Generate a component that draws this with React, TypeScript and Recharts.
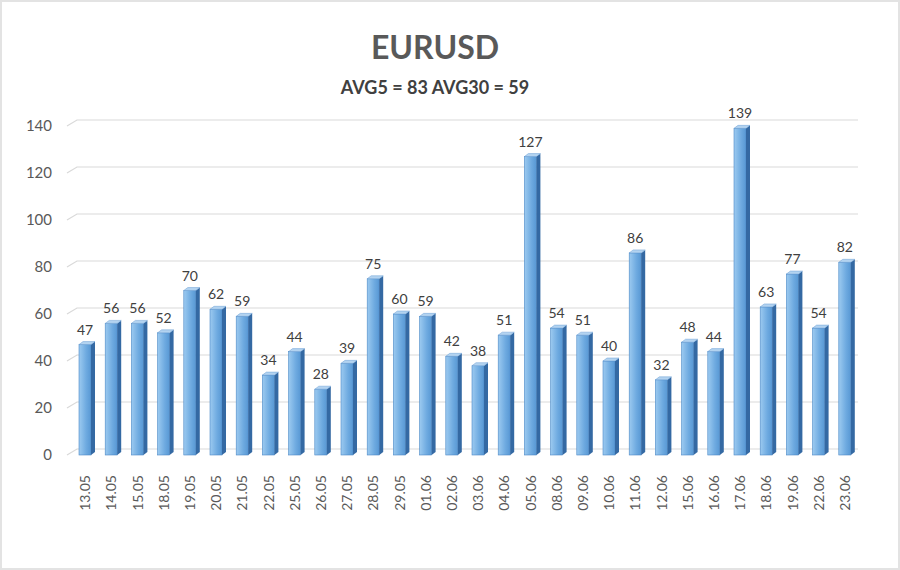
import { BarChart, Bar, XAxis, YAxis, CartesianGrid, LabelList } from "recharts";

const days = [
  "13.05", "14.05", "15.05", "18.05", "19.05", "20.05", "21.05", "22.05", "25.05", "26.05",
  "27.05", "28.05", "29.05", "01.06", "02.06", "03.06", "04.06", "05.06", "08.06", "09.06",
  "10.06", "11.06", "12.06", "15.06", "16.06", "17.06", "18.06", "19.06", "22.06", "23.06",
];
const ranges = [
  47, 56, 56, 52, 70, 62, 59, 34, 44, 28,
  39, 75, 60, 59, 42, 38, 51, 127, 54, 51,
  40, 86, 32, 48, 44, 139, 63, 77, 54, 82,
];
const yTicks = [0, 20, 40, 60, 80, 100, 120, 140];

const data = days.map((d, i) => ({ day: d, value: ranges[i] }));

const FONT = "Lato, 'Open Sans', sans-serif";

// bar with a bit of depth, like the excel 3d column
const Column3D = (props: any) => {
  const { x, y, width, height } = props;
  if (!height || height <= 0) return null;
  const d = 4; // depth
  const dy = 3;
  return (
    <g>
      <rect x={x} y={y} width={width} height={height} fill="url(#frontGrad)" stroke="#4a88c6" strokeWidth={0.6} />
      <path
        d={`M${x + width},${y} L${x + width + d},${y - dy} L${x + width + d},${y + height - dy} L${x + width},${y + height} Z`}
        fill="#3469a3"
      />
      <path
        d={`M${x},${y} L${x + d},${y - dy} L${x + width + d},${y - dy} L${x + width},${y} Z`}
        fill="#b3d3f0"
        stroke="#6a9fd4"
        strokeWidth={0.5}
      />
    </g>
  );
};

const GridLine = (props: any) => {
  const { x1, x2, y1 } = props;
  return (
    <path
      key={props.key}
      d={`M${x1 - 5},${y1} L${x1 + 5},${y1 - 6} L${x2},${y1 - 6}`}
      fill="none"
      stroke="#d9d9d9"
      strokeWidth={1.2}
    />
  );
};

const DayTick = (props: any) => {
  const { x, y, payload } = props;
  const tx = x + 5;
  const ty = y + 12;
  return (
    <text
      x={tx}
      y={ty}
      transform={`rotate(-90, ${tx}, ${ty})`}
      textAnchor="end"
      fontSize={14}
      fontFamily={FONT}
      fill="#595959"
    >
      {payload.value}
    </text>
  );
};

export default function App() {
  return (
    <div
      style={{
        position: "absolute",
        left: 0,
        top: 0,
        width: 900,
        height: 570,
        background: "#fff",
        border: "2px solid #e3e3e3",
        boxSizing: "border-box",
        fontFamily: FONT,
      }}
    >
      <div
        style={{
          position: "absolute",
          left: 233,
          width: 400,
          top: 25,
          textAlign: "center",
          fontSize: 32,
          fontWeight: 700,
          color: "#595959",
          lineHeight: "40px",
        }}
      >
        EURUSD
      </div>
      <div
        style={{
          position: "absolute",
          left: 233,
          width: 400,
          top: 74,
          textAlign: "center",
          fontSize: 18,
          fontWeight: 700,
          color: "#404040",
          lineHeight: "22px",
        }}
      >
        AVG5 = 83 AVG30 = 59
      </div>
      <div style={{ position: "absolute", left: -2, top: -2 }}>
        <BarChart
          width={900}
          height={570}
          data={data}
          margin={{ top: 126, right: 42, bottom: 15, left: 0 }}
          barCategoryGap={14}
        >
          <defs>
            <linearGradient id="frontGrad" x1="0" y1="0" x2="1" y2="0">
              <stop offset="0%" stopColor="#9ccaf0" />
              <stop offset="60%" stopColor="#6eaae0" />
              <stop offset="100%" stopColor="#5898d4" />
            </linearGradient>
          </defs>
          <CartesianGrid vertical={false} horizontal={GridLine} />
          <XAxis
            dataKey="day"
            interval={0}
            height={100}
            axisLine={false}
            tickLine={false}
            tick={<DayTick />}
          />
          <YAxis
            domain={[0, 140]}
            ticks={yTicks}
            width={72}
            axisLine={false}
            tickLine={false}
            tickSize={0}
            tickMargin={20}
            tick={{ fontSize: 15, fill: "#595959", fontFamily: FONT }}
          />
          <Bar dataKey="value" barSize={12} shape={<Column3D />} isAnimationActive={false}>
            <LabelList
              dataKey="value"
              position="top"
              offset={10}
              style={{ fontSize: 14, fill: "#404040", fontFamily: FONT }}
            />
          </Bar>
        </BarChart>
      </div>
    </div>
  );
}
